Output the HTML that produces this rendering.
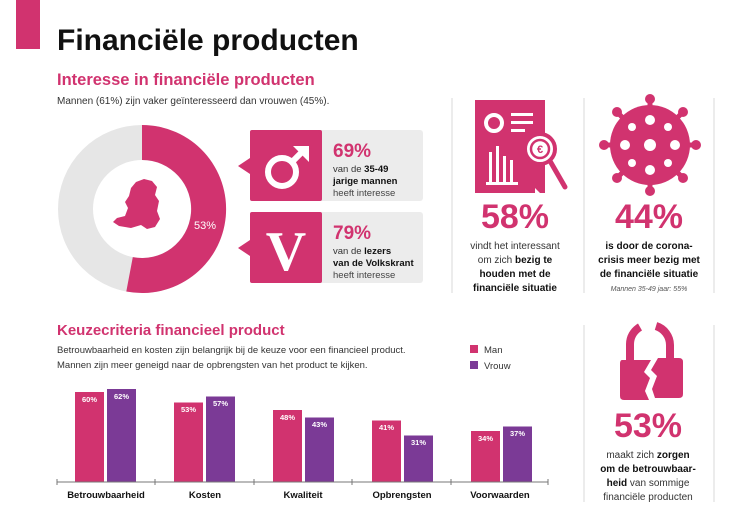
<!DOCTYPE html>
<html><head><meta charset="utf-8"><style>
body{margin:0;background:#fff;}
svg{display:block;font-family:"Liberation Sans",sans-serif;}
</style></head><body>
<svg width="751" height="512" viewBox="0 0 751 512" xmlns="http://www.w3.org/2000/svg">
<rect x="16" y="0" width="24" height="49" fill="#d1336f"/>
<text x="57" y="50" font-size="30" font-weight="bold" fill="#111">Financiële producten</text>
<text x="57" y="85" font-size="16.5" font-weight="bold" fill="#d1336f">Interesse in financiële producten</text>
<text x="57" y="104" font-size="10" fill="#333">Mannen (61%) zijn vaker geïnteresseerd dan vrouwen (45%).</text>

<!-- donut -->
<circle cx="142" cy="209" r="66.5" fill="none" stroke="#e6e6e6" stroke-width="35"/>
<path d="M142 125 A84 84 0 1 1 126.3 291.5 L132.8 257.1 A49 49 0 1 0 142 160 Z" fill="#d1336f"/>
<text x="205" y="229" font-size="11" fill="#fff" text-anchor="middle">53%</text>
<!-- NL map rough -->
<path d="M136 182 l8 -3 l8 2 l5 6 l-2 8 l4 6 l-2 10 l3 8 l-5 8 l-8 2 l-6 -4 l-10 3 l-12 -2 l-6 -4 l4 -4 l8 -2 l3 -8 l-3 -6 l4 -6 l2 -8 z" fill="#d1336f"/>

<!-- callout 1 -->
<rect x="250" y="130" width="173" height="71" rx="3" fill="#ececec"/>
<rect x="250" y="130" width="72" height="71" rx="2" fill="#d1336f"/>
<polygon points="250,158 238,166 250,174" fill="#d1336f"/>
<circle cx="282" cy="172" r="14" fill="none" stroke="#fff" stroke-width="6"/>
<line x1="292" y1="162" x2="305" y2="149" stroke="#fff" stroke-width="6"/>
<polygon points="293,146 309,146 309,162" fill="#fff"/>
<text x="333" y="157" font-size="19" font-weight="bold" fill="#d1336f">69%</text>
<text x="333" y="172" font-size="9.5" fill="#333">van de <tspan font-weight="bold" fill="#111">35-49</tspan></text>
<text x="333" y="184" font-size="9.5" font-weight="bold" fill="#111">jarige mannen</text>
<text x="333" y="196" font-size="9.5" fill="#444">heeft interesse</text>
<!-- callout 2 -->
<rect x="250" y="212" width="173" height="71" rx="3" fill="#ececec"/>
<rect x="250" y="212" width="72" height="71" rx="2" fill="#d1336f"/>
<polygon points="250,240 238,248 250,256" fill="#d1336f"/>
<text x="286" y="270" font-size="56" font-family="Liberation Serif,serif" font-weight="bold" fill="#fff" text-anchor="middle">V</text>
<text x="333" y="239" font-size="19" font-weight="bold" fill="#d1336f">79%</text>
<text x="333" y="254" font-size="9.5" fill="#333">van de <tspan font-weight="bold" fill="#111">lezers</tspan></text>
<text x="333" y="266" font-size="9.5" font-weight="bold" fill="#111">van de Volkskrant</text>
<text x="333" y="278" font-size="9.5" fill="#444">heeft interesse</text>

<!-- dividers -->
<line x1="452" y1="98" x2="452" y2="293" stroke="#e6e6e6" stroke-width="1.5"/>
<line x1="584" y1="98" x2="584" y2="293" stroke="#e6e6e6" stroke-width="1.5"/>
<line x1="714" y1="98" x2="714" y2="293" stroke="#e6e6e6" stroke-width="1.5"/>
<line x1="584" y1="325" x2="584" y2="502" stroke="#e6e6e6" stroke-width="1.5"/>
<line x1="714" y1="325" x2="714" y2="502" stroke="#e6e6e6" stroke-width="1.5"/>

<!-- doc icon -->
<path d="M475 100 H545 V193 H540 L535 188 L535 193 H475 Z" fill="#d1336f"/>
<circle cx="494" cy="123" r="8" fill="none" stroke="#fff" stroke-width="4"/>
<rect x="511" y="113" width="22" height="3" fill="#fff"/>
<rect x="511" y="121" width="22" height="3" fill="#fff"/>
<rect x="511" y="129" width="14" height="3" fill="#fff"/>
<rect x="489" y="152" width="3" height="30" fill="#fff"/>
<rect x="496" y="146" width="3" height="36" fill="#fff"/>
<rect x="503" y="156" width="3" height="26" fill="#fff"/>
<rect x="510" y="160" width="3" height="22" fill="#fff"/>
<rect x="486" y="182" width="32" height="3" fill="#fff"/>
<circle cx="540" cy="149" r="15" fill="#fff" stroke="#d1336f" stroke-width="4"/>
<circle cx="540" cy="149" r="9" fill="none" stroke="#d1336f" stroke-width="2.5"/>
<text x="540" y="153" font-size="11" font-weight="bold" fill="#d1336f" text-anchor="middle">€</text>
<line x1="550" y1="161" x2="565" y2="187" stroke="#d1336f" stroke-width="5" stroke-linecap="round"/>
<text x="515" y="228" font-size="34" font-weight="bold" fill="#d1336f" text-anchor="middle">58%</text>
<text x="515" y="249" font-size="10" fill="#333" text-anchor="middle">vindt het interessant</text>
<text x="515" y="263" font-size="10" fill="#333" text-anchor="middle">om zich <tspan font-weight="bold" fill="#111">bezig te</tspan></text>
<text x="515" y="277" font-size="10" font-weight="bold" fill="#111" text-anchor="middle">houden met de</text>
<text x="515" y="291" font-size="10" font-weight="bold" fill="#111" text-anchor="middle">financiële situatie</text>

<!-- virus -->
<g fill="#d1336f">
<circle cx="650" cy="145" r="40"/>
<g stroke="#d1336f" stroke-width="5">
<line x1="650" y1="145" x2="650" y2="99"/><line x1="650" y1="145" x2="650" y2="191"/>
<line x1="650" y1="145" x2="604" y2="145"/><line x1="650" y1="145" x2="696" y2="145"/>
<line x1="650" y1="145" x2="617" y2="112"/><line x1="650" y1="145" x2="683" y2="178"/>
<line x1="650" y1="145" x2="683" y2="112"/><line x1="650" y1="145" x2="617" y2="178"/>
</g>
<circle cx="650" cy="99" r="5"/><circle cx="650" cy="191" r="5"/><circle cx="604" cy="145" r="5"/><circle cx="696" cy="145" r="5"/>
<circle cx="617" cy="112" r="5"/><circle cx="683" cy="178" r="5"/><circle cx="683" cy="112" r="5"/><circle cx="617" cy="178" r="5"/>
</g>
<g fill="#fff"><circle cx="650" cy="145" r="6"/><circle cx="650" cy="120" r="5"/><circle cx="650" cy="170" r="5"/><circle cx="625" cy="145" r="5"/><circle cx="675" cy="145" r="5"/><circle cx="632" cy="127" r="4"/><circle cx="668" cy="163" r="4"/><circle cx="668" cy="127" r="4"/><circle cx="632" cy="163" r="4"/></g>
<text x="649" y="228" font-size="34" font-weight="bold" fill="#d1336f" text-anchor="middle">44%</text>
<text x="649" y="249" font-size="10" font-weight="bold" fill="#111" text-anchor="middle">is door de corona-</text>
<text x="649" y="263" font-size="10" font-weight="bold" fill="#111" text-anchor="middle">crisis meer bezig met</text>
<text x="649" y="277" font-size="10" font-weight="bold" fill="#111" text-anchor="middle">de financiële situatie</text>
<text x="649" y="291" font-size="7" font-style="italic" fill="#555" text-anchor="middle">Mannen 35-49 jaar: 55%</text>

<!-- chart section -->
<text x="57" y="335" font-size="15" font-weight="bold" fill="#d1336f">Keuzecriteria financieel product</text>
<text x="57" y="353" font-size="9.5" fill="#333">Betrouwbaarheid en kosten zijn belangrijk bij de keuze voor een financieel product.</text>
<text x="57" y="368" font-size="9.5" fill="#333">Mannen zijn meer geneigd naar de opbrengsten van het product te kijken.</text>
<rect x="470" y="345" width="8" height="8" fill="#d1336f"/>
<text x="484" y="353" font-size="9.5" fill="#333">Man</text>
<rect x="470" y="361" width="8" height="8" fill="#7b3a96"/>
<text x="484" y="369" font-size="9.5" fill="#333">Vrouw</text>

<g font-size="7.5" font-weight="bold" fill="#fff" text-anchor="middle">
<rect x="75" y="392" width="29" height="90" fill="#d1336f"/><text x="89.5" y="402">60%</text>
<rect x="107" y="389" width="29" height="93" fill="#7b3a96"/><text x="121.5" y="399">62%</text>
<rect x="174" y="402.5" width="29" height="79.5" fill="#d1336f"/><text x="188.5" y="412">53%</text>
<rect x="206" y="396.5" width="29" height="85.5" fill="#7b3a96"/><text x="220.5" y="406">57%</text>
<rect x="273" y="410" width="29" height="72" fill="#d1336f"/><text x="287.5" y="420">48%</text>
<rect x="305" y="417.5" width="29" height="64.5" fill="#7b3a96"/><text x="319.5" y="427">43%</text>
<rect x="372" y="420.5" width="29" height="61.5" fill="#d1336f"/><text x="386.5" y="430">41%</text>
<rect x="404" y="435.5" width="29" height="46.5" fill="#7b3a96"/><text x="418.5" y="445">31%</text>
<rect x="471" y="431" width="29" height="51" fill="#d1336f"/><text x="485.5" y="441">34%</text>
<rect x="503" y="426.5" width="29" height="55.5" fill="#7b3a96"/><text x="517.5" y="436">37%</text>
</g>
<line x1="57" y1="482" x2="548" y2="482" stroke="#777" stroke-width="1"/>
<g stroke="#777"><line x1="57" y1="479" x2="57" y2="485"/><line x1="155" y1="479" x2="155" y2="485"/><line x1="254" y1="479" x2="254" y2="485"/><line x1="352" y1="479" x2="352" y2="485"/><line x1="451" y1="479" x2="451" y2="485"/><line x1="548" y1="479" x2="548" y2="485"/></g>
<g font-size="9.5" font-weight="bold" fill="#111" text-anchor="middle">
<text x="106" y="498">Betrouwbaarheid</text><text x="205" y="498">Kosten</text><text x="303" y="498">Kwaliteit</text><text x="402" y="498">Opbrengsten</text><text x="500" y="498">Voorwaarden</text>
</g>

<!-- lock -->
<path d="M630 365 V345 A20 20 0 0 1 640 327" fill="none" stroke="#d1336f" stroke-width="8"/>
<path d="M656 326 A20 20 0 0 1 670 345 V362" fill="none" stroke="#d1336f" stroke-width="8"/>
<path d="M622 360 H651 L644 372 L650 378 L645 391 L649 400 H624 Q620 400 620 396 V364 Q620 360 622 360 Z" fill="#d1336f"/>
<path d="M656 360 H677 Q681 360 681 364 V396 Q681 400 677 400 H653 L650 391 L655 378 L649 372 Z" fill="#d1336f" transform="translate(2,-2)"/>
<text x="648" y="437" font-size="34" font-weight="bold" fill="#d1336f" text-anchor="middle">53%</text>
<text x="648" y="458" font-size="10" fill="#333" text-anchor="middle">maakt zich <tspan font-weight="bold" fill="#111">zorgen</tspan></text>
<text x="648" y="472" font-size="10" font-weight="bold" fill="#111" text-anchor="middle">om de betrouwbaar-</text>
<text x="648" y="486" font-size="10" fill="#333" text-anchor="middle"><tspan font-weight="bold" fill="#111">heid</tspan> van sommige</text>
<text x="648" y="500" font-size="10" fill="#333" text-anchor="middle">financiële producten</text>
</svg>
</body></html>
